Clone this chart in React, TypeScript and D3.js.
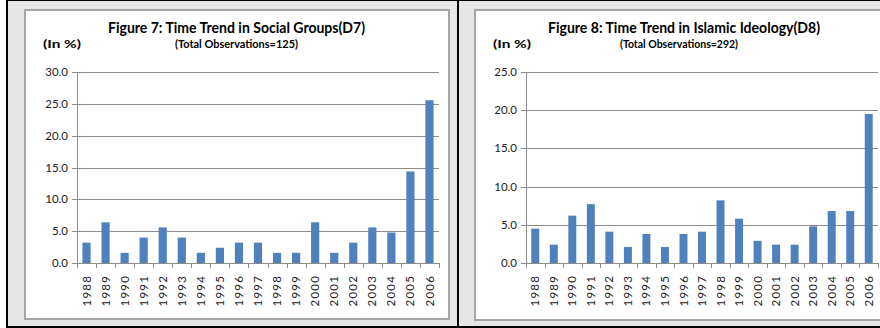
import React from 'react';
import * as d3 from 'd3';

const years = ['1988','1989','1990','1991','1992','1993','1994','1995','1996','1997','1998','1999','2000','2001','2002','2003','2004','2005','2006'];
const socialGroups = [3.2,6.4,1.6,4.0,5.6,4.0,1.6,2.4,3.2,3.2,1.6,1.6,6.4,1.6,3.2,5.6,4.8,14.4,25.6];
const islamicIdeology = [4.5,2.4,6.2,7.7,4.1,2.1,3.8,2.1,3.8,4.1,8.2,5.8,2.9,2.4,2.4,4.8,6.8,6.8,19.5];
const ticksD7 = [0,5,10,15,20,25,30];
const ticksD8 = [0,5,10,15,20,25];
const titleD7 = 'Figure 7: Time Trend in Social Groups(D7)';
const titleD8 = 'Figure 8: Time Trend in Islamic Ideology(D8)';
const subD7 = '(Total Observations=125)';
const subD8 = '(Total Observations=292)';
const unitLabel = '(In %)';

const FONT = 'Lato, "Open Sans", sans-serif';
const BAR = '#4f81bd';
const GRID = '#8c8c8c';

type PanelProps = {
  values: number[];
  ticks: number[];
  title: string;
  sub: string;
  x0: number; x1: number; yTop: number; yZero: number;
  titleCx: number; titleW: number; subCx: number; subW: number;
  unitX: number;
};

function Panel(p: PanelProps) {
  const maxV = p.ticks[p.ticks.length - 1];
  const y = d3.scaleLinear().domain([0, maxV]).range([p.yZero, p.yTop]);
  const x = d3.scaleBand<string>().domain(years).range([p.x0, p.x1]).paddingInner(0.57).paddingOuter(0.285);
  const gap = (x.step() - x.bandwidth()) / 2;
  const bounds = years.map((yr) => (x(yr) as number) - gap).concat([p.x1]);
  return (
    <g>
      <text x={p.titleCx} y={33} textAnchor="middle" fontFamily={FONT} fontWeight="bold" fontSize={15} fill="#000"
        textLength={p.titleW} lengthAdjust="spacingAndGlyphs">{p.title}</text>
      <text x={p.subCx} y={48} textAnchor="middle" fontFamily={FONT} fontWeight="bold" fontSize={11} fill="#000"
        textLength={p.subW} lengthAdjust="spacingAndGlyphs">{p.sub}</text>
      <text x={p.unitX} y={48} fontFamily={FONT} fontWeight="bold" fontSize={11} fill="#000"
        textLength={38} lengthAdjust="spacingAndGlyphs">{unitLabel}</text>
      {p.ticks.map((t) => (
        <g key={t}>
          {t > 0 && <line x1={p.x0} x2={p.x1} y1={Math.round(y(t)) + 0.5} y2={Math.round(y(t)) + 0.5} stroke={GRID} strokeWidth={1} />}
          <line x1={p.x0 - 5} x2={p.x0} y1={Math.round(y(t)) + 0.5} y2={Math.round(y(t)) + 0.5} stroke={GRID} strokeWidth={1} />
          <text x={p.x0 - 9} y={y(t)} dy="0.35em" textAnchor="end" fontFamily={FONT} fontSize={11.5} fill="#222">{t.toFixed(1)}</text>
        </g>
      ))}
      {p.values.map((v, i) => (
        <rect key={years[i]} x={x(years[i])} y={y(v)} width={x.bandwidth()} height={p.yZero - y(v)} fill={BAR} />
      ))}
      <line x1={p.x0 + 0.5} x2={p.x0 + 0.5} y1={p.yTop} y2={p.yZero} stroke={GRID} strokeWidth={1} />
      <line x1={p.x0} x2={p.x1} y1={Math.round(p.yZero) + 0.5} y2={Math.round(p.yZero) + 0.5} stroke={GRID} strokeWidth={1} />
      {bounds.map((b, i) => (
        <line key={i} x1={Math.round(b) + 0.5} x2={Math.round(b) + 0.5} y1={p.yZero} y2={p.yZero + 5} stroke={GRID} strokeWidth={1} />
      ))}
      {years.map((yr) => {
        const cx = (x(yr) as number) + x.bandwidth() / 2;
        return (
          <text key={yr} transform={`translate(${cx},${p.yZero + 12}) rotate(-90)`} textAnchor="end" dy="0.35em"
            fontFamily={FONT} fontSize={11.5} letterSpacing={1.2} fill="#222">{yr}</text>
        );
      })}
    </g>
  );
}

export default function App() {
  return (
    <svg width={880} height={328} style={{ position: 'absolute', left: 0, top: 0, background: '#fff' }}>
      <rect x={7} y={0} width={451} height={327} fill="#e6e6e6" stroke="#000" strokeWidth={2} />
      <rect x={458} y={0} width={450} height={327} fill="#e6e6e6" stroke="#000" strokeWidth={2} />
      <rect x={25} y={10} width={424} height={309} fill="#fff" stroke="#a6a6a6" strokeWidth={2} />
      <rect x={475} y={10} width={430} height={310} fill="#fff" stroke="#a6a6a6" strokeWidth={2} />
      <Panel values={socialGroups} ticks={ticksD7} title={titleD7} sub={subD7}
        x0={77} x1={439} yTop={72.3} yZero={263}
        titleCx={236.5} titleW={257} subCx={236.5} subW={123} unitX={43} />
      <Panel values={islamicIdeology} ticks={ticksD8} title={titleD8} sub={subD8}
        x0={526} x1={878} yTop={72} yZero={263}
        titleCx={684} titleW={272} subCx={679} subW={118} unitX={493} />
    </svg>
  );
}
